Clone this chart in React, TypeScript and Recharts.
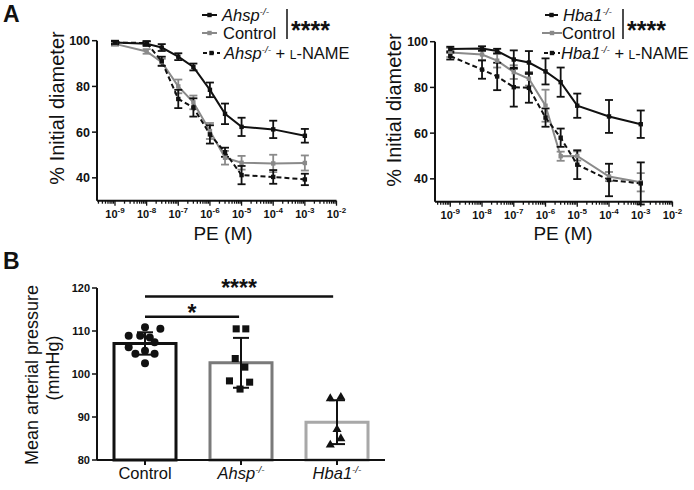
import {
  ComposedChart,
  Line,
  Bar,
  Cell,
  Scatter,
  XAxis,
  YAxis,
  ZAxis,
  ErrorBar,
  ReferenceLine,
} from "recharts";

const FONT = "'Liberation Sans', Arial, Helvetica, sans-serif";
const INK = "#111111";
const GREY = "#8a8a8a";

// ---- panel A: PE dose response (% initial diameter) ----
const peConc = [1e-9, 1e-8, 3e-8, 1e-7, 3e-7, 1e-6, 3e-6, 1e-5, 1e-4, 1e-3];

const ahsp = [99.2, 98.7, 97, 93, 88.5, 78.5, 68, 62.3, 61.2, 58.4];
const ahspErr = [0.8, 1, 1.5, 1.5, 1.5, 3.2, 4.5, 4, 3.8, 3];
const ahspCtrl = [98.6, 95.3, 90.6, 80, 73, 60.5, 48.8, 46.6, 46.3, 46.5];
const ahspCtrlErr = [0.8, 1, 1.5, 3, 3, 3.5, 3, 3, 3.8, 3.3];
const ahspLname = [99.2, 99, 91, 74.5, 70.8, 59, 51.2, 41.2, 40.4, 39.3];
const ahspLnameErr = [0.6, 0.8, 2, 4, 4, 4, 2, 4, 3, 2.5];

const hba1 = [96.8, 97, 95.9, 92.2, 90.9, 87, 82.3, 72, 67.3, 63.9];
const hba1Err = [1, 1, 1, 4, 5, 5.7, 6.4, 5.3, 7.2, 6];
const hba1Ctrl = [95.3, 94.4, 91.7, 86.7, 83.8, 72, 49.9, 50, 41, 38.5];
const hba1CtrlErr = [2, 2.5, 3, 3, 3, 7, 2, 2, 2, 4];
const hba1Lname = [93.7, 87.8, 84.8, 80.1, 79.8, 66.8, 58, 46.2, 39.5, 38];
const hba1LnameErr = [1.5, 4, 6, 8.5, 6.5, 4, 4, 6.3, 7.1, 9.2];

const majorTicks = [1e-9, 1e-8, 1e-7, 1e-6, 1e-5, 1e-4, 1e-3, 1e-2];
const minorSteps = [2, 3, 4, 5, 6, 7, 8, 9];
const diamTicks = [40, 60, 80, 100];

// ---- panel B: mean arterial pressure ----
const groups = ["Control", "Ahsp", "Hba1"];
const mapMean = [107.1, 102.6, 88.8];
const mapSd = [2.6, 5.8, 5.1];
const ctrlPts = [110.9, 110.5, 108.9, 108.9, 108.5, 107.4, 106.2, 104.7, 105.4, 104.7, 102.5];
const ctrlJit = [0, 0.16, -0.17, -0.05, 0.05, 0.1, -0.17, -0.1, 0, 0.1, 0];
const ahspPts = [110.5, 110.5, 103.6, 101.6, 98.4, 98.1, 96.5];
const ahspJit = [-0.05, 0.05, -0.06, 0.04, -0.12, 0.09, -0.01];
const hba1Pts = [94.3, 94.6, 87.1, 85, 83.5];
const hba1Jit = [-0.07, 0.04, 0, 0.04, -0.07];
const mapTicks = [80, 90, 100, 110, 120];

const buildRows = (mut: number[], mutE: number[], ctl: number[], ctlE: number[], ln: number[], lnE: number[]) =>
  peConc.map((c, i) => ({
    c,
    mut: mut[i],
    mutErr: mutE[i],
    ctrl: ctl[i],
    ctrlErr: ctlE[i],
    lname: ln[i],
    lnameErr: lnE[i],
  }));

const squareDot = (color: string) => (p: any) => (
  <rect key={`d${p.index}`} x={p.cx - 2.2} y={p.cy - 2.2} width={4.4} height={4.4} fill={color} />
);

function LogTick(props: any) {
  const { x, y, payload } = props;
  const v = payload.value;
  const major = majorTicks.some((m) => Math.abs(m - v) / m < 1e-6);
  const e = Math.round(Math.log10(v));
  return (
    <g>
      <line x1={x} x2={x} y1={y} y2={y + (major ? 5 : 3)} stroke={INK} strokeWidth={1.3} />
      {major && (
        <text x={x} y={y + 17} textAnchor="middle" fontFamily={FONT} fontSize={11} fontWeight={700} fill={INK}>
          10
          <tspan dy={-4.5} fontSize={8}>{String(e)}</tspan>
        </text>
      )}
    </g>
  );
}

function MutName({ name, size }: { name: string; size: number }) {
  return (
    <>
      <tspan fontStyle="italic">{name}</tspan>
      <tspan fontStyle="italic" fontSize={size * 0.6} dy={-size * 0.38}>
        -/-
      </tspan>
      <tspan dy={size * 0.38}> </tspan>
    </>
  );
}

type Row = { y: number; x1: number; x2: number; tx: number };

function CurveLegend({ mut, rows, barX, starX }: { mut: string; rows: Row[]; barX: number; starX: number }) {
  const fs = 16.5;
  const styles = [
    { color: INK, dash: undefined },
    { color: GREY, dash: undefined },
    { color: INK, dash: "4 3" },
  ];
  return (
    <g fontFamily={FONT} fill={INK}>
      {rows.map((r, i) => (
        <g key={i}>
          <line x1={r.x1} x2={r.x2} y1={r.y} y2={r.y} stroke={styles[i].color} strokeWidth={2} strokeDasharray={styles[i].dash} />
          <rect x={(r.x1 + r.x2) / 2 - 2.2} y={r.y - 2.2} width={4.4} height={4.4} fill={styles[i].color} />
        </g>
      ))}
      <text x={rows[0].tx} y={rows[0].y + 6} fontSize={fs}>
        <MutName name={mut} size={fs} />
      </text>
      <text x={rows[1].tx} y={rows[1].y + 6} fontSize={fs}>
        Control
      </text>
      <text x={rows[2].tx} y={rows[2].y + 6} fontSize={fs}>
        <MutName name={mut} size={fs} />+ <tspan fontSize={12}>L</tspan>-NAME
      </text>
      <line x1={barX} x2={barX} y1={9} y2={39} stroke={INK} strokeWidth={1.5} />
      <text x={starX} y={39} fontSize={25} fontWeight={700}>
        ****
      </text>
    </g>
  );
}

function CurvePanel(props: {
  left: number;
  width: number;
  mLeft: number;
  mRight: number;
  mTop: number;
  mBottom: number;
  xMin: number;
  rows: any[];
  mut: string;
  legend: Row[];
  barX: number;
  starX: number;
  yTitle: [number, number];
  xTitle: number;
  letter?: boolean;
}) {
  const ticks = [
    ...[-10, -9, -8, -7, -6, -5, -4, -3].flatMap((e) => minorSteps.map((m) => m * Math.pow(10, e))),
    ...majorTicks,
  ]
    .filter((t) => t >= props.xMin && t <= 1e-2)
    .sort((a, b) => a - b);
  return (
    <div style={{ position: "absolute", left: props.left, top: 0 }}>
      <ComposedChart
        width={props.width}
        height={250}
        data={props.rows}
        margin={{ top: props.mTop, right: props.mRight, left: props.mLeft, bottom: props.mBottom }}
      >
        <XAxis
          dataKey="c"
          type="number"
          scale="log"
          domain={[props.xMin, 1e-2]}
          ticks={ticks}
          interval={0}
          tick={<LogTick />}
          tickLine={false}
          tickSize={0}
          tickMargin={0}
          height={40}
          axisLine={{ stroke: INK, strokeWidth: 2 }}
          allowDataOverflow
        />
        <YAxis
          domain={[30, 100]}
          ticks={diamTicks}
          width={60}
          tickSize={5}
          tickMargin={2}
          axisLine={{ stroke: INK, strokeWidth: 2 }}
          tickLine={{ stroke: INK, strokeWidth: 1.5 }}
          tick={{ fontSize: 12.5, fontWeight: 700, fill: INK, fontFamily: FONT }}
          allowDataOverflow
        />
        <Line dataKey="ctrl" type="linear" stroke={GREY} strokeWidth={2} dot={squareDot(GREY)} activeDot={false} isAnimationActive={false}>
          <ErrorBar dataKey="ctrlErr" width={4} stroke={GREY} strokeWidth={1.8} direction="y" />
        </Line>
        <Line dataKey="lname" type="linear" stroke={INK} strokeWidth={2} strokeDasharray="5 3" dot={squareDot(INK)} activeDot={false} isAnimationActive={false}>
          <ErrorBar dataKey="lnameErr" width={4} stroke={INK} strokeWidth={1.8} direction="y" />
        </Line>
        <Line dataKey="mut" type="linear" stroke={INK} strokeWidth={2} dot={squareDot(INK)} activeDot={false} isAnimationActive={false}>
          <ErrorBar dataKey="mutErr" width={4} stroke={INK} strokeWidth={1.8} direction="y" />
        </Line>
        {props.letter && (
          <text x={3} y={22} fontFamily={FONT} fontSize={23} fontWeight={700} fill={INK}>
            A
          </text>
        )}
        <text
          transform={`translate(${props.yTitle[0]},${props.yTitle[1]}) rotate(-90)`}
          textAnchor="middle"
          fontFamily={FONT}
          fontSize={20}
          fill={INK}
        >
          % Initial diameter
        </text>
        <text x={props.xTitle} y={240} textAnchor="middle" fontFamily={FONT} fontSize={19} fill={INK}>
          PE (M)
        </text>
        <CurveLegend mut={props.mut} rows={props.legend} barX={props.barX} starX={props.starX} />
      </ComposedChart>
    </div>
  );
}

function GroupTick(props: any) {
  const { x, y, payload } = props;
  const g = payload.value;
  return (
    <g>
      <line x1={x} x2={x} y1={y} y2={y + 5} stroke={INK} strokeWidth={2} />
      <text x={x} y={y + 19} textAnchor="middle" fontFamily={FONT} fontSize={16.5} fill={INK}>
        {g === "Control" ? "Control" : <MutName name={g} size={16.5} />}
      </text>
    </g>
  );
}

const mapRows = groups.map((g, i) => ({ g, mean: mapMean[i], sd: mapSd[i] }));
const pts = (vals: number[], jit: number[], gi: number) => vals.map((v, i) => ({ x: gi + jit[i], y: v }));
const barStroke = [INK, "#7a7a7a", "#a8a8a8"];

function PressurePanel() {
  return (
    <div style={{ position: "absolute", left: 0, top: 242 }}>
      <ComposedChart width={400} height={248} data={mapRows} margin={{ top: 46, right: 15, left: 37, bottom: 0 }}>
        <XAxis
          xAxisId="cat"
          dataKey="g"
          interval={0}
          tick={<GroupTick />}
          tickLine={false}
          tickSize={0}
          tickMargin={0}
          height={30}
          axisLine={{ stroke: INK, strokeWidth: 2 }}
        />
        <XAxis xAxisId="num" dataKey="x" type="number" domain={[-0.5, 2.5]} hide />
        <YAxis
          domain={[80, 120]}
          ticks={mapTicks}
          width={60}
          tickSize={5}
          tickMargin={2}
          axisLine={{ stroke: INK, strokeWidth: 2 }}
          tickLine={{ stroke: INK, strokeWidth: 1.5 }}
          tick={{ fontSize: 11, fontWeight: 700, fill: INK, fontFamily: FONT }}
        />
        <ZAxis range={[50, 50]} />
        <ZAxis zAxisId="tri" range={[36, 36]} />
        <Bar xAxisId="cat" dataKey="mean" barSize={62} fill="#ffffff" strokeWidth={3} isAnimationActive={false}>
          {mapRows.map((r, i) => (
            <Cell key={r.g} stroke={barStroke[i]} />
          ))}
          <ErrorBar dataKey="sd" width={8} stroke={INK} strokeWidth={2} direction="y" />
        </Bar>
        <Scatter xAxisId="num" data={pts(ctrlPts, ctrlJit, 0)} dataKey="y" shape="circle" fill={INK} isAnimationActive={false} />
        <Scatter xAxisId="num" data={pts(ahspPts, ahspJit, 1)} dataKey="y" shape="square" fill={INK} isAnimationActive={false} />
        <Scatter xAxisId="num" zAxisId="tri" data={pts(hba1Pts, hba1Jit, 2)} dataKey="y" shape="triangle" fill={INK} isAnimationActive={false} />
        <ReferenceLine
          xAxisId="num"
          segment={[{ x: 0, y: 118 }, { x: 1.96, y: 118 }]}
          stroke={INK}
          strokeWidth={2.5}
          ifOverflow="visible"
          label={{ value: "****", position: "top", offset: 1, fontSize: 23, fontWeight: 700, fill: INK, fontFamily: FONT }}
        />
        <ReferenceLine
          xAxisId="num"
          segment={[{ x: 0, y: 113.3 }, { x: 0.98, y: 113.3 }]}
          stroke={INK}
          strokeWidth={2.5}
          ifOverflow="visible"
          label={{ value: "*", position: "top", offset: -4, fontSize: 23, fontWeight: 700, fill: INK, fontFamily: FONT }}
        />
        <text x={3} y={27} fontFamily={FONT} fontSize={23} fontWeight={700} fill={INK}>
          B
        </text>
        <text transform="translate(38,133) rotate(-90)" textAnchor="middle" fontFamily={FONT} fontSize={18} fill={INK}>
          Mean arterial pressure
        </text>
        <text transform="translate(59,126) rotate(-90)" textAnchor="middle" fontFamily={FONT} fontSize={18} fill={INK}>
          (mmHg)
        </text>
      </ComposedChart>
    </div>
  );
}

export default function App() {
  return (
    <div style={{ position: "absolute", left: 0, top: 0, width: 694, height: 490, background: "#ffffff", overflow: "hidden" }}>
      <CurvePanel
        left={0}
        width={355}
        mLeft={37}
        mRight={18.5}
        mTop={40.7}
        mBottom={9.3}
        xMin={2.7e-10}
        rows={buildRows(ahsp, ahspErr, ahspCtrl, ahspCtrlErr, ahspLname, ahspLnameErr)}
        mut="Ahsp"
        legend={[
          { y: 15, x1: 202, x2: 217, tx: 222 },
          { y: 33, x1: 202, x2: 217, tx: 223 },
          { y: 53, x1: 203, x2: 220, tx: 224 },
        ]}
        barX={287}
        starX={291}
        yTitle={[64, 108]}
        xTitle={223}
        letter
      />
      <CurvePanel
        left={345}
        width={349}
        mLeft={30}
        mRight={21.5}
        mTop={41.7}
        mBottom={8.3}
        xMin={3.3e-10}
        rows={buildRows(hba1, hba1Err, hba1Ctrl, hba1CtrlErr, hba1Lname, hba1LnameErr)}
        mut="Hba1"
        legend={[
          { y: 15, x1: 200, x2: 213, tx: 218 },
          { y: 33, x1: 197, x2: 217, tx: 217 },
          { y: 53, x1: 199, x2: 215, tx: 216 },
        ]}
        barX={278}
        starX={282}
        yTitle={[56, 110]}
        xTitle={218}
      />
      <PressurePanel />
    </div>
  );
}
